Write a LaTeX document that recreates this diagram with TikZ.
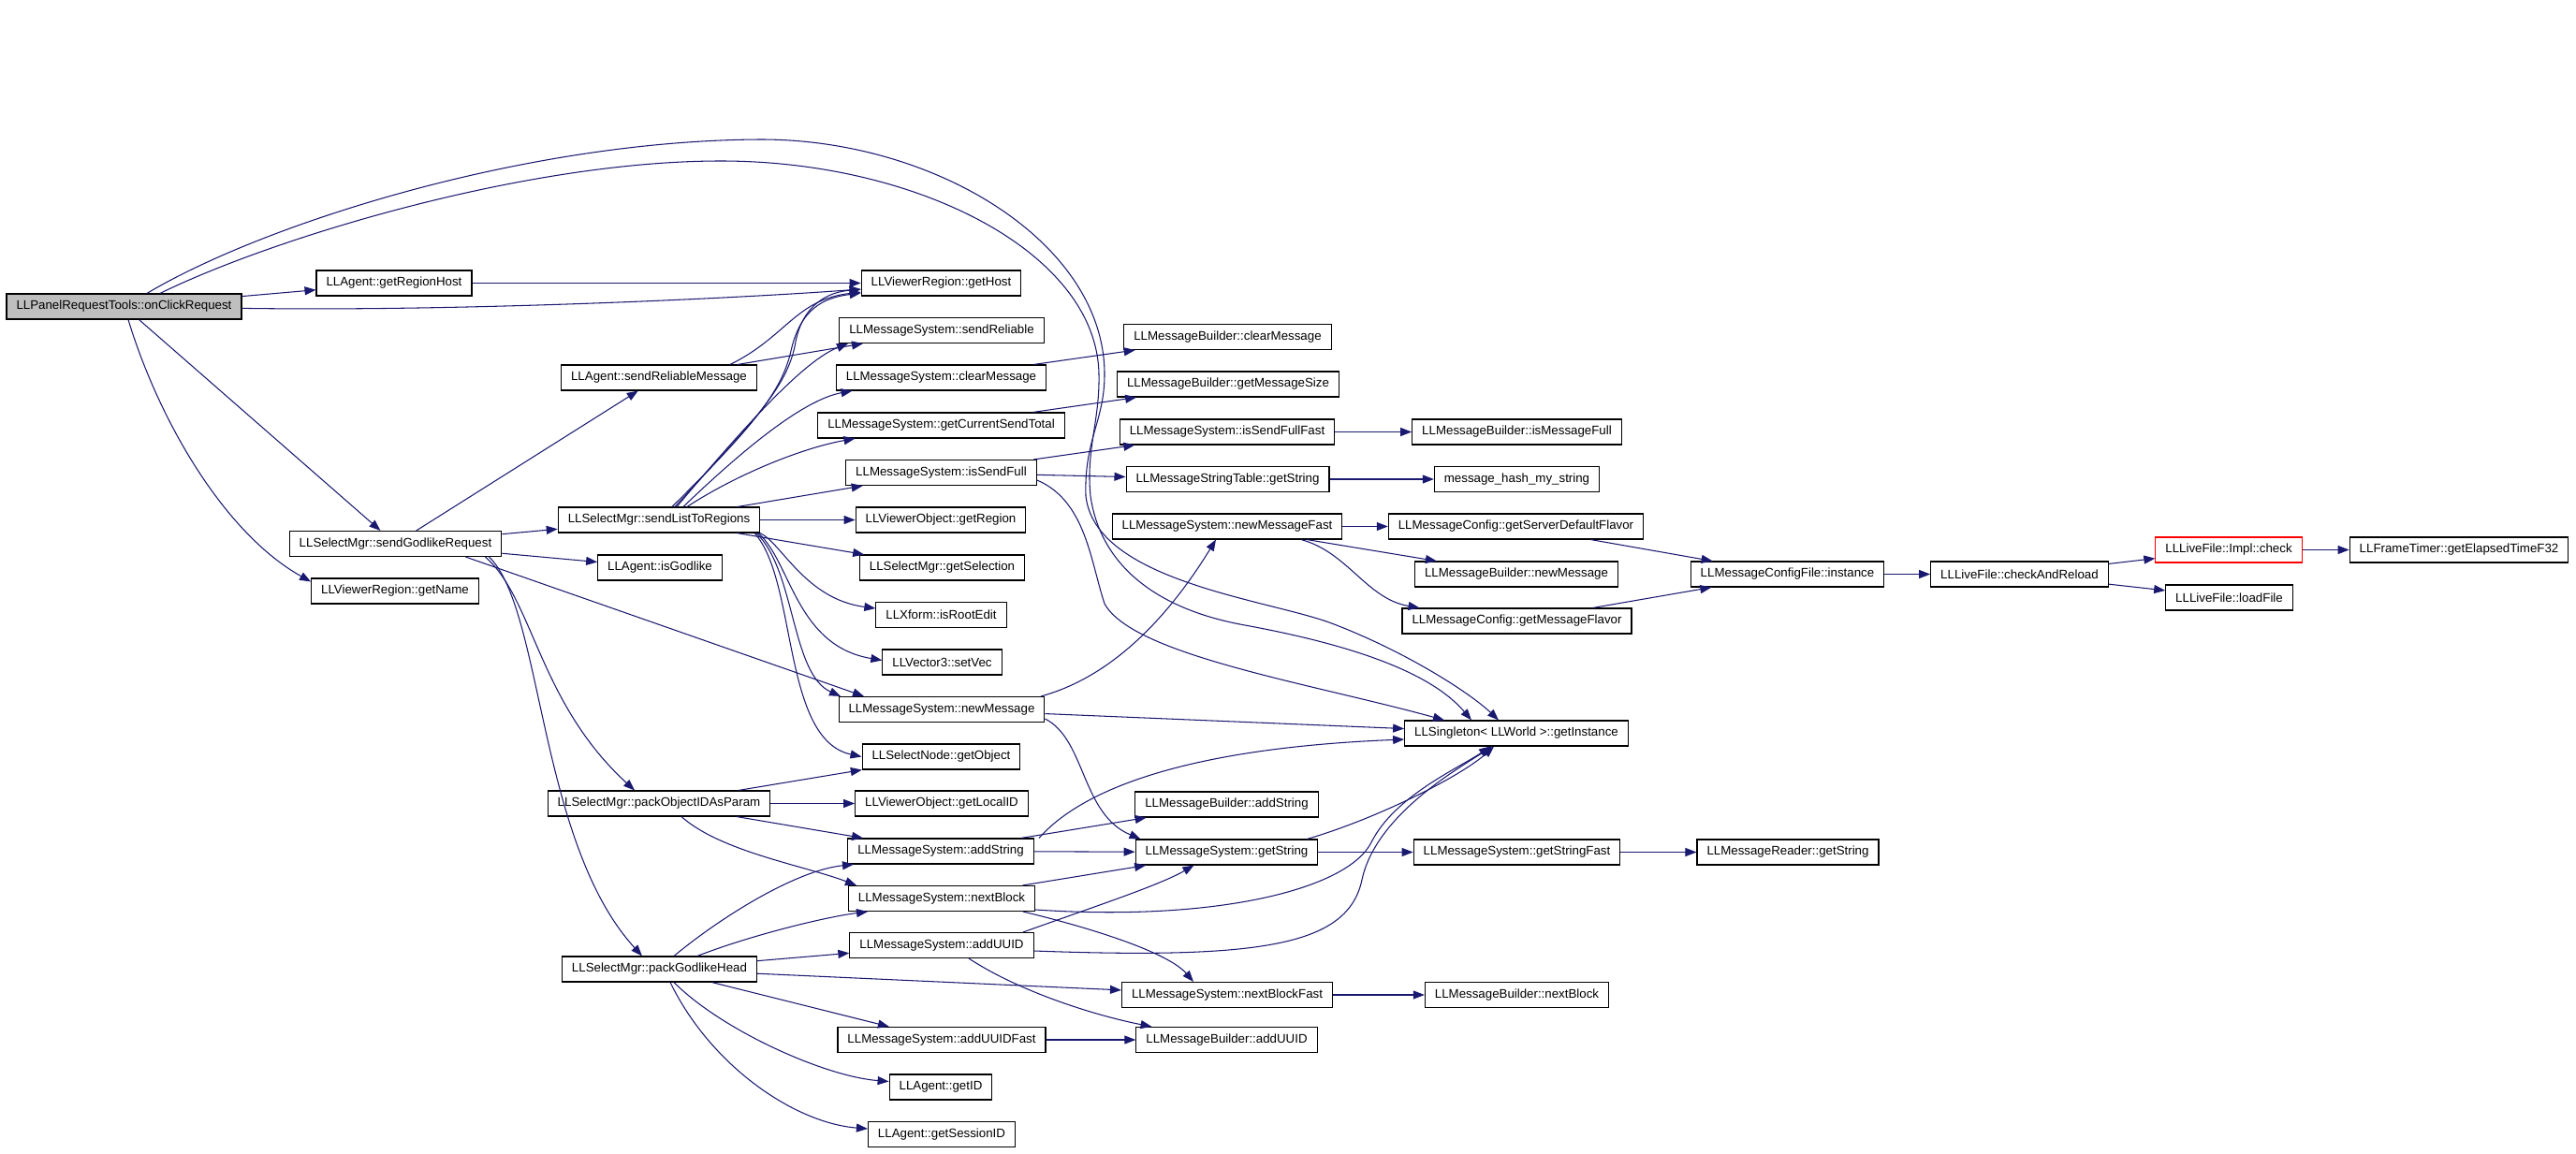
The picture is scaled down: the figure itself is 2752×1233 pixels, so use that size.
\documentclass[tikz,border=0pt]{standalone}
\usepackage{fontspec}
\setmainfont{Liberation Sans}
\usetikzlibrary{arrows.meta}
\definecolor{callblue}{RGB}{25, 25, 112}
\definecolor{rootgray}{RGB}{191, 191, 191}
\tikzset{
  fn/.style={draw=black, line width=1.1pt, fill=white, font=\fontsize{13.3}{16}\selectfont,
    inner xsep=10.5pt, inner ysep=0pt, minimum height=27pt},
  fnroot/.style={fn, fill=rootgray},
  fntrunc/.style={fn, draw=red},
  call/.style={draw=callblue, line width=1.05pt, -{Triangle[length=12pt, width=9pt]}},
}
\begin{document}
\begin{tikzpicture}[x=1pt, y=-1pt]
  \useasboundingbox (0,0) rectangle (2752,1233);
  \fill[white] (0,0) rectangle (2752,1233);

  % Root function
  \node[fnroot] (click) at (132.5,327.5) {LLPanelRequestTools::onClickRequest};

  % Second column
  \node[fn] (regionhost) at (421,302.5) {LLAgent::getRegionHost};
  \node[fn] (sendgodlike) at (422.5,581) {LLSelectMgr::sendGodlikeRequest};
  \node[fn] (getname) at (422,631.5) {LLViewerRegion::getName};

  % Third column
  \node[fn] (sendrelmsg) at (704,403.5) {LLAgent::sendReliableMessage};
  \node[fn] (sendlist) at (704,555.5) {LLSelectMgr::sendListToRegions};
  \node[fn] (isgodlike) at (705,606.5) {LLAgent::isGodlike};
  \node[fn] (packobj) at (704,858.5) {LLSelectMgr::packObjectIDAsParam};
  \node[fn] (packgodlike) at (704.5,1035.5) {LLSelectMgr::packGodlikeHead};

  % Fourth column
  \node[fn] (gethost) at (1005.5,302.5) {LLViewerRegion::getHost};
  \node[fn] (sendrel) at (1006,353) {LLMessageSystem::sendReliable};
  \node[fn] (clearmsg) at (1005.5,403.5) {LLMessageSystem::clearMessage};
  \node[fn] (cursend) at (1005.5,454.5) {LLMessageSystem::getCurrentSendTotal};
  \node[fn] (issendfull) at (1005.5,505) {LLMessageSystem::isSendFull};
  \node[fn] (getregion) at (1005,555.5) {LLViewerObject::getRegion};
  \node[fn] (getsel) at (1006.5,606.5) {LLSelectMgr::getSelection};
  \node[fn] (isrootedit) at (1005.5,657) {LLXform::isRootEdit};
  \node[fn] (setvec) at (1006.5,707.5) {LLVector3::setVec};
  \node[fn] (newmsg) at (1006,758) {LLMessageSystem::newMessage};
  \node[fn] (getobject) at (1005.5,808.5) {LLSelectNode::getObject};
  \node[fn] (getlocalid) at (1006,858.5) {LLViewerObject::getLocalID};
  \node[fn] (addstring) at (1005,909.5) {LLMessageSystem::addString};
  \node[fn] (nextblock) at (1006,960) {LLMessageSystem::nextBlock};
  \node[fn] (adduuid) at (1006,1010) {LLMessageSystem::addUUID};
  \node[fn] (adduuidfast) at (1006,1111) {LLMessageSystem::addUUIDFast};
  \node[fn] (getid) at (1005,1161.5) {LLAgent::getID};
  \node[fn] (getsession) at (1006,1212) {LLAgent::getSessionID};

  % Fifth column
  \node[fn] (bclear) at (1311.5,360) {LLMessageBuilder::clearMessage};
  \node[fn] (bgetsize) at (1312,410.5) {LLMessageBuilder::getMessageSize};
  \node[fn] (issendfullfast) at (1311,461.5) {LLMessageSystem::isSendFullFast};
  \node[fn] (tablestring) at (1311.5,512) {LLMessageStringTable::getString};
  \node[fn] (newmsgfast) at (1311,562.5) {LLMessageSystem::newMessageFast};
  \node[fn] (baddstring) at (1310.5,859.5) {LLMessageBuilder::addString};
  \node[fn] (getstring) at (1310.5,910.5) {LLMessageSystem::getString};
  \node[fn] (nextblockfast) at (1311,1063) {LLMessageSystem::nextBlockFast};
  \node[fn] (badduuid) at (1310.5,1111) {LLMessageBuilder::addUUID};

  % Sixth column
  \node[fn] (ismsgfull) at (1620.5,461.5) {LLMessageBuilder::isMessageFull};
  \node[fn] (hashstring) at (1620.5,512) {message\_hash\_my\_string};
  \node[fn] (serverflavor) at (1619.5,562.5) {LLMessageConfig::getServerDefaultFlavor};
  \node[fn] (bnewmsg) at (1620,613.5) {LLMessageBuilder::newMessage};
  \node[fn] (msgflavor) at (1620.5,663.5) {LLMessageConfig::getMessageFlavor};
  \node[fn] (singleton) at (1620,783.5) {LLSingleton< LLWorld >::getInstance};
  \node[fn] (getstringfast) at (1620.5,910.5) {LLMessageSystem::getStringFast};
  \node[fn] (bnextblock) at (1620.5,1063) {LLMessageBuilder::nextBlock};

  % Right part
  \node[fn] (cfginstance) at (1909.5,613.5) {LLMessageConfigFile::instance};
  \node[fn] (readerstring) at (1910,910.5) {LLMessageReader::getString};
  \node[fn] (checkreload) at (2157.5,613.5) {LLLiveFile::checkAndReload};
  \node[fntrunc] (implcheck) at (2381,587.5) {LLLiveFile::Impl::check};
  \node[fn] (loadfile) at (2381.5,638.5) {LLLiveFile::loadFile};
  \node[fn] (frametimer) at (2627,587.5) {LLFrameTimer::getElapsedTimeF32};

  % Calls from the root
  \draw[call] (click) -- (regionhost);
  \draw[call] (click) .. controls (500,333) and (800,318) .. (gethost);
  \draw[call] (click) -- (sendgodlike);
  \draw[call] ([xshift=4.5pt]click.south) .. controls (170,450) and (240,570) .. ([yshift=10pt]getname.west);
  \draw[call] ([xshift=24.5pt]click.north) .. controls (280,240) and (560,150) .. (813,149)
    .. controls (1000,149) and (1180,260) .. (1180,400)
    .. controls (1180,450) and (1158,470) .. (1160,530)
    .. controls (1170,620) and (1350,640) .. (1420,665)
    .. controls (1500,695) and (1570,740) .. ([xshift=-19pt]singleton.north);
  \draw[call] ([xshift=38.5pt]click.north) .. controls (290,255) and (560,172) .. (770,172)
    .. controls (980,172) and (1172,270) .. (1174,400)
    .. controls (1175,450) and (1160,480) .. (1165,530)
    .. controls (1175,600) and (1230,650) .. (1330,668)
    .. controls (1450,690) and (1530,720) .. ([xshift=-48pt]singleton.north);

  % Second column calls
  \draw[call] (regionhost) -- (gethost);
  \draw[call] (sendgodlike) -- (sendrelmsg);
  \draw[call] (sendgodlike) -- (sendlist);
  \draw[call] (sendgodlike) -- (isgodlike);
  \draw[call] ([xshift=75pt]sendgodlike.south) -- ([xshift=-83pt]newmsg.north);
  \draw[call] ([xshift=96pt]sendgodlike.south) .. controls (570,640) and (575,750) .. ([xshift=-26pt]packobj.north);
  \draw[call] ([xshift=100pt]sendgodlike.south) .. controls (580,650) and (575,900) .. ([xshift=-18.5pt]packgodlike.north);

  % Third column calls
  \draw[call] (sendrelmsg) -- (sendrel);
  \draw[call] ([xshift=76pt]sendrelmsg.north) .. controls (840,360) and (850,320) .. (gethost);
  \draw[call] ([xshift=14pt]sendlist.north) .. controls (800,460) and (835,420) .. (845,375)
    .. controls (855,330) and (880,318) .. (gethost);
  \draw[call] ([xshift=17pt]sendlist.north) .. controls (800,455) and (842,415) .. (850,365)
    .. controls (858,325) and (885,312) .. (gethost);
  \draw[call] ([xshift=19pt]sendlist.north) .. controls (800,450) and (860,385) .. ([xshift=-100pt]sendrel.south);
  \draw[call] ([xshift=26pt]sendlist.north) .. controls (820,455) and (870,425) .. ([xshift=-95pt]clearmsg.south);
  \draw[call] ([xshift=30pt]sendlist.north) .. controls (790,505) and (860,478) .. ([xshift=-92pt]cursend.south);
  \draw[call] (sendlist) -- (issendfull);
  \draw[call] (sendlist) -- (getregion);
  \draw[call] (sendlist) -- (getsel);
  \draw[call] ([xshift=108pt]sendlist.south) .. controls (835,580) and (860,640) .. ([yshift=7pt]isrootedit.west);
  \draw[call] ([xshift=106pt]sendlist.south) .. controls (845,600) and (850,690) .. ([yshift=2pt]setvec.west);
  \draw[call] ([xshift=104pt]sendlist.south) .. controls (850,610) and (845,720) .. ([xshift=-108pt]newmsg.north);
  \draw[call] ([xshift=102pt]sendlist.south) .. controls (852,620) and (835,790) .. (getobject.west);
  \draw[call] (packobj) -- (getobject);
  \draw[call] (packobj) -- (getlocalid);
  \draw[call] (packobj) -- (addstring);
  \draw[call] ([xshift=24pt]packobj.south) .. controls (770,910) and (860,925) .. ([xshift=-91pt]nextblock.north);
  \draw[call] ([xshift=15.5pt]packgodlike.north) .. controls (770,980) and (850,930) .. ([xshift=-93pt]addstring.south);
  \draw[call] ([xshift=40.5pt]packgodlike.north) .. controls (800,1000) and (880,980) .. ([xshift=-79pt]nextblock.south);
  \draw[call] (packgodlike) -- (adduuid);
  \draw[call] (packgodlike) -- (nextblockfast);
  \draw[call] (packgodlike) -- (adduuidfast);
  \draw[call] ([xshift=15.5pt]packgodlike.south) .. controls (770,1100) and (880,1150) .. ([yshift=6pt]getid.west);
  \draw[call] ([xshift=11.5pt]packgodlike.south) .. controls (760,1140) and (850,1200) .. ([yshift=6pt]getsession.west);

  % Fourth column calls
  \draw[call] (clearmsg) -- (bclear);
  \draw[call] (cursend) -- (bgetsize);
  \draw[call] (issendfull) -- (issendfullfast);
  \draw[call] (issendfull) -- (tablestring);
  \draw[call] ([yshift=-8pt]issendfull.east) .. controls (1160,535) and (1165,600) .. (1180,645)
    .. controls (1210,700) and (1400,730) .. ([xshift=-77pt]singleton.north);
  \draw[call] ([xshift=106pt]newmsg.north) .. controls (1200,720) and (1260,640) .. ([xshift=-12pt]newmsgfast.south);
  \draw[call] (newmsg) -- (singleton);
  \draw[call] ([yshift=-10pt]newmsg.east) .. controls (1160,790) and (1155,870) .. ([xshift=-92pt]getstring.north);
  \draw[call] (addstring) -- (baddstring);
  \draw[call] (addstring) -- (getstring);
  \draw[call] ([xshift=105pt]addstring.north) .. controls (1150,850) and (1250,800) .. ([yshift=-6.5pt]singleton.west);
  \draw[call] (nextblock) -- (getstring);
  \draw[call] ([yshift=-12pt]nextblock.east) .. controls (1300,985) and (1440,950) .. (1465,900)
    .. controls (1490,850) and (1560,820) .. ([xshift=-28pt]singleton.south);
  \draw[call] ([xshift=87pt]nextblock.south) .. controls (1180,995) and (1250,1020) .. ([xshift=-36pt]nextblockfast.north);
  \draw[call] ([xshift=87pt]adduuid.north) .. controls (1180,965) and (1240,945) .. ([xshift=-35pt]getstring.south);
  \draw[call] ([yshift=-6pt]adduuid.east) .. controls (1350,1025) and (1440,1010) .. (1455,940)
    .. controls (1470,870) and (1560,820) .. ([xshift=-26pt]singleton.south);
  \draw[call] ([xshift=29pt]adduuid.south) .. controls (1090,1060) and (1170,1085) .. ([xshift=-80pt]badduuid.north);
  \draw[call] (adduuidfast) -- (badduuid);

  % Fifth column calls
  \draw[call] (issendfullfast) -- (ismsgfull);
  \draw[call] (tablestring) -- (hashstring);
  \draw[call] (newmsgfast) -- (serverflavor);
  \draw[call] (newmsgfast) -- (bnewmsg);
  \draw[call] ([xshift=79pt]newmsgfast.south) .. controls (1440,590) and (1460,640) .. ([xshift=-104pt]msgflavor.north);
  \draw[call] ([xshift=86pt]getstring.north) .. controls (1470,875) and (1560,830) .. ([xshift=-24pt]singleton.south);
  \draw[call] (getstring) -- (getstringfast);
  \draw[call] (nextblockfast) -- (bnextblock);

  % Right part calls
  \draw[call] (serverflavor) -- (cfginstance);
  \draw[call] (msgflavor) -- (cfginstance);
  \draw[call] (getstringfast) -- (readerstring);
  \draw[call] (cfginstance) -- (checkreload);
  \draw[call] (checkreload) -- (implcheck);
  \draw[call] (checkreload) -- (loadfile);
  \draw[call] (implcheck) -- (frametimer);
\end{tikzpicture}
\end{document}
